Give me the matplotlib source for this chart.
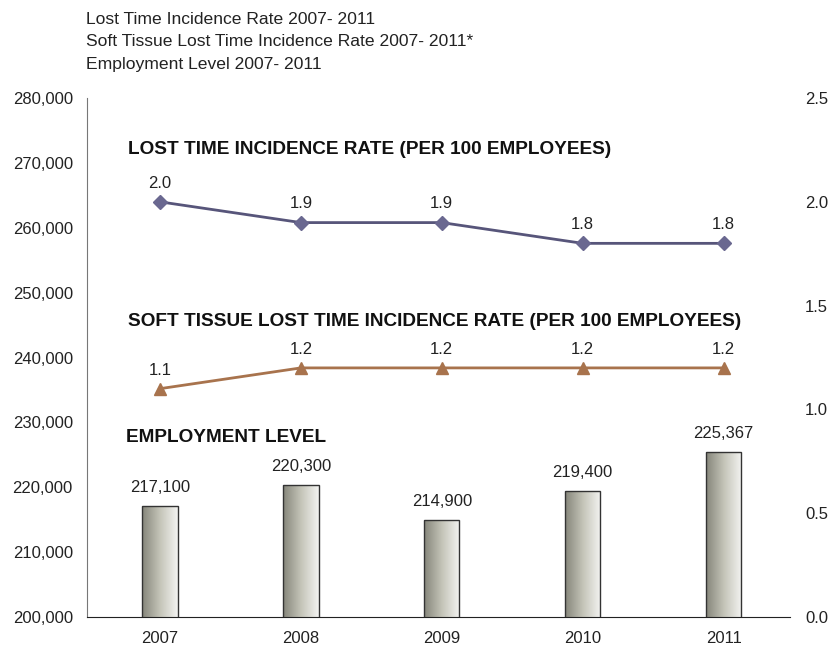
import matplotlib.pyplot as plt
import numpy as np

plt.rcParams['font.family'] = ['Liberation Sans', 'DejaVu Sans']

years = ['2007', '2008', '2009', '2010', '2011']
employment = [217100, 220300, 214900, 219400, 225367]
lost_time = [2.0, 1.9, 1.9, 1.8, 1.8]
soft_tissue = [1.1, 1.2, 1.2, 1.2, 1.2]

title_lines = ['Lost Time Incidence Rate 2007- 2011',
               'Soft Tissue Lost Time Incidence Rate 2007- 2011*',
               'Employment Level 2007- 2011']

fig = plt.figure(figsize=(8.34, 6.45), dpi=100)
ax = fig.add_axes([0.104, 0.0434, 0.843, 0.8046])
x = np.arange(len(years))

bars = ax.bar(x, employment, width=0.25, bottom=0, color='none',
              edgecolor='#333333', linewidth=1.0, zorder=3)
grad = np.linspace(0, 1, 256).reshape(1, -1)
cmap = plt.matplotlib.colors.LinearSegmentedColormap.from_list(
    'bar', ['#85857a', '#c4c4b8', '#f4f4f2'])
for b in bars:
    x0, w, h = b.get_x(), b.get_width(), b.get_height()
    im = ax.imshow(grad, cmap=cmap, aspect='auto', extent=[x0, x0 + w, 200000, h],
                   zorder=2)
    im.set_clip_path(b)
for xi, v in zip(x, employment):
    ax.annotate(f'{v:,}', (xi, v), xytext=(0, 8), textcoords='offset points',
                ha='center', va='bottom', fontsize=12, color='#222222')

ax.set_xlim(-0.52, 4.47)
ax.set_ylim(200000, 280000)
ax.set_yticks(np.arange(200000, 280001, 10000))
ax.yaxis.set_major_formatter(plt.FuncFormatter(lambda v, p: f'{int(v):,}'))
ax.set_xticks(x)
ax.set_xticklabels(years)
ax.tick_params(axis='y', length=0, labelsize=12, pad=10, labelcolor='#222222')
ax.tick_params(axis='x', length=0, labelsize=12, pad=10, labelcolor='#222222')
for s in ['top', 'right']:
    ax.spines[s].set_visible(False)
ax.spines['left'].set_color('#777777')
ax.spines['bottom'].set_color('#222222')

ax2 = ax.twinx()
ax2.set_ylim(0, 2.5)
ax2.set_yticks(np.arange(0, 2.51, 0.5))
ax2.yaxis.set_major_formatter(plt.FuncFormatter(lambda v, p: f'{v:.1f}'))
ax2.tick_params(axis='y', length=0, labelsize=12, pad=11, labelcolor='#222222')
for s in ['top', 'right', 'left', 'bottom']:
    ax2.spines[s].set_visible(False)

ax2.plot(x, lost_time, color='#57557a', linewidth=2, marker='D', markersize=7,
         markerfacecolor='#6a6890', markeredgecolor='#6a6890', zorder=4)
ax2.plot(x, soft_tissue, color='#a8734d', linewidth=2, marker='^', markersize=9,
         markerfacecolor='#a8734d', markeredgecolor='#a8734d', zorder=4)
for xi, v in zip(x, lost_time):
    ax2.annotate(f'{v:.1f}', (xi, v), xytext=(0, 8), textcoords='offset points',
                 ha='center', va='bottom', fontsize=12, color='#222222')
for xi, v in zip(x, soft_tissue):
    ax2.annotate(f'{v:.1f}', (xi, v), xytext=(0, 8), textcoords='offset points',
                 ha='center', va='bottom', fontsize=12, color='#222222')

fig.text(128 / 834, 1 - 150 / 645, 'LOST TIME INCIDENCE RATE (PER 100 EMPLOYEES)',
         fontsize=13.7, fontweight='bold', va='center', color='#111111')
fig.text(128 / 834, 1 - 322 / 645,
         'SOFT TISSUE LOST TIME INCIDENCE RATE (PER 100 EMPLOYEES)',
         fontsize=13.7, fontweight='bold', va='center', color='#111111')
fig.text(126 / 834, 1 - 437 / 645, 'EMPLOYMENT LEVEL',
         fontsize=13.7, fontweight='bold', va='center', color='#111111')

for i, t in enumerate(title_lines):
    fig.text(86 / 834, 1 - (19 + 22.5 * i) / 645, t, fontsize=12.6, va='center',
             color='#222222')

fig.savefig('out.png', dpi=100)
